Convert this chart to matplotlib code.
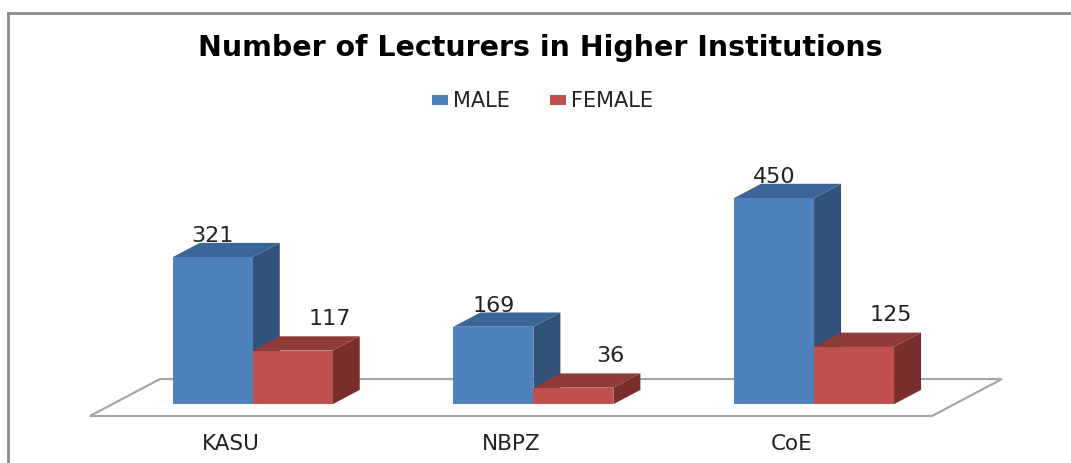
import numpy as np
import matplotlib
matplotlib.use('Agg')
from matplotlib import pyplot as plt
from matplotlib.patches import Polygon, Rectangle

categories = ['KASU', 'NBPZ', 'CoE']
series = ['MALE', 'FEMALE']
male = [321, 169, 450]
female = [117, 36, 125]
values = [male, female]

front_cols = ['#4f81bd', '#c0504d']
top_cols = ['#3c6597', '#8f3b39']
side_cols = ['#31527b', '#7a2e2c']

W, H = 1071, 464
fig = plt.figure(figsize=(W / 100, H / 100), dpi=100)

# frame of the chart area
fig.add_artist(plt.Line2D([8 / W, 8 / W], [0, 1 - 14 / H], color='#8a8a8a', lw=2))
fig.add_artist(plt.Line2D([8 / W, 1], [1 - 14 / H, 1 - 14 / H], color='#8a8a8a', lw=2))

# axes: x in category units, y in value units, floor front edge at y=0
px_per_val = 0.458
ax = fig.add_axes([90 / W, 47 / H, 842 / W, 287 / H])
ax.set_xlim(-0.5, 2.5)
ax.set_ylim(0, 287 / px_per_val)
ax.axis('off')

px_per_cat = 842 / 3
DX = 70 / px_per_cat          # full floor depth, in category units
DY = 37 / px_per_val          # full floor depth, in value units
t0, t1 = 0.32, 0.32 + 27 / 70  # depth span of the bars
bw = 80 / px_per_cat

floor = Polygon([(-0.5, 0), (2.5, 0), (2.5 + DX, DY), (-0.5 + DX, DY)],
                closed=True, facecolor='white', edgecolor='#a6a6a6', lw=1.6,
                clip_on=False)
ax.add_patch(floor)

ddx = (t1 - t0) * DX
ddy = (t1 - t0) * DY
for i, cat in enumerate(categories):
    for s in range(2):
        v = values[s][i]
        x0 = i + t0 * DX + (s - 1) * bw
        x1 = x0 + bw
        y0 = t0 * DY
        y1 = y0 + v
        ax.add_patch(Polygon([(x1, y0), (x1 + ddx, y0 + ddy), (x1 + ddx, y1 + ddy), (x1, y1)],
                             closed=True, facecolor=side_cols[s], lw=0, clip_on=False))
        ax.add_patch(Polygon([(x0, y1), (x1, y1), (x1 + ddx, y1 + ddy), (x0 + ddx, y1 + ddy)],
                             closed=True, facecolor=top_cols[s], lw=0, clip_on=False))
        ax.add_patch(Rectangle((x0, y0), bw, v, facecolor=front_cols[s], lw=0, clip_on=False))
        lx = (x0 + x1) / 2 + (37 / px_per_cat if s == 1 else 0)
        ly = y1 + (33 if s == 1 else 22) / px_per_val
        ax.text(lx, ly, str(v), ha='center', va='center', fontsize=16, color='#222222')
    ax.text(i, -27 / px_per_val, cat, ha='center', va='center', fontsize=15.5, color='#222222',
            clip_on=False)

fig.text(540 / W, 1 - 48 / H, 'Number of Lecturers in Higher Institutions',
         ha='center', va='center', fontsize=20.5, fontweight='bold', color='black')

# legend
leg_x = [432, 550]
for s in range(2):
    fig.add_artist(Rectangle((leg_x[s] / W, 1 - 106 / H), 16 / W, 10 / H,
                             facecolor=front_cols[s], lw=0))
    fig.text((leg_x[s] + 21) / W, 1 - 101 / H, series[s], ha='left', va='center',
             fontsize=15, color='#222222')

fig.savefig('out.png', dpi=100)
